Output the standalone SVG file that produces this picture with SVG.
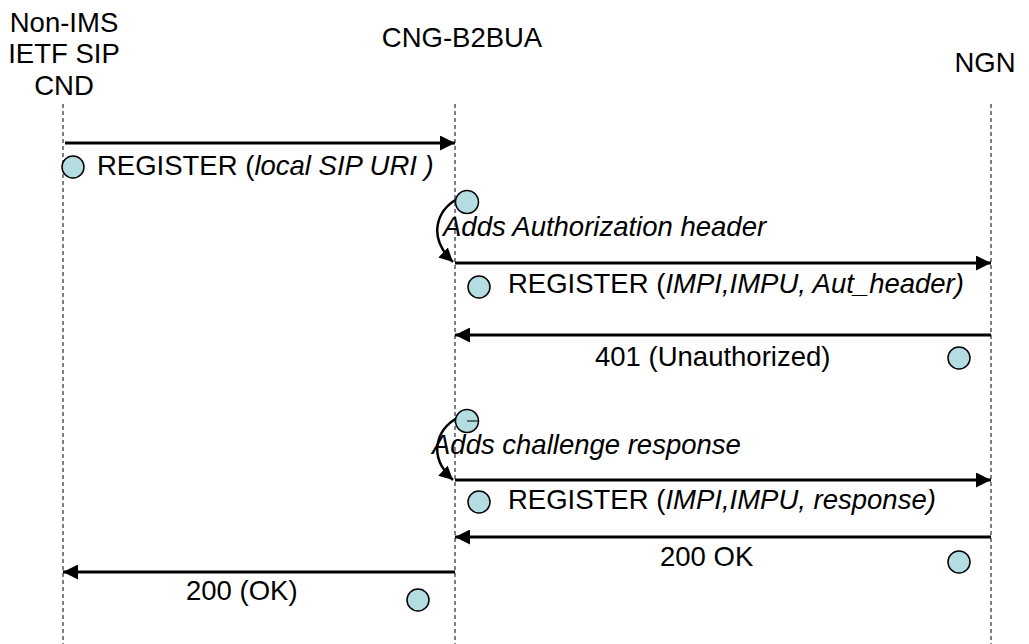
<svg xmlns="http://www.w3.org/2000/svg" width="1029" height="644" viewBox="0 0 1029 644">
<defs>
<marker id="ah" viewBox="0 0 10 10" refX="10" refY="5" markerWidth="5" markerHeight="5" orient="auto" markerUnits="strokeWidth">
<path d="M0,0 L10,5 L0,10 z" fill="#000"/>
</marker>
<marker id="ah2" viewBox="0 0 10 10" refX="10" refY="5" markerWidth="5.5" markerHeight="5.5" orient="auto" markerUnits="strokeWidth">
<path d="M0,0 L10,5 L0,10 z" fill="#000"/>
</marker>
<style>
text{font-family:"Liberation Sans",Arial,sans-serif;font-size:27.5px;fill:#000}
.it{font-style:italic}
.life{stroke:#000;stroke-width:1;stroke-dasharray:4,3}
.msg{stroke:#000;stroke-width:3;fill:none;marker-end:url(#ah)}
.curve{stroke:#000;stroke-width:2.5;fill:none;marker-end:url(#ah2)}
.dot{fill:#b4dde1;stroke:#000;stroke-width:1.5}
</style>
</defs>
<rect width="1029" height="644" fill="#fff"/>
<g id="cnd">
<text x="64" y="32" text-anchor="middle">Non-IMS</text>
<text x="64" y="63" text-anchor="middle">IETF SIP</text>
<text x="64" y="95" text-anchor="middle">CND</text>
<line class="life" x1="63" y1="104" x2="63" y2="644"/>
</g>
<g id="b2bua">
<text x="462" y="47" text-anchor="middle">CNG-B2BUA</text>
<line class="life" x1="455" y1="104" x2="455" y2="644"/>
</g>
<g id="ngn">
<text x="985" y="72" text-anchor="middle">NGN</text>
<line class="life" x1="991" y1="104" x2="991" y2="644"/>
</g>
<g id="connectors">
<line class="msg" x1="65" y1="143" x2="455" y2="143"/>
<path class="curve" d="M457,199 C438,210 426,236 453,262"/>
<line class="msg" x1="455" y1="263" x2="991" y2="263"/>
<line class="msg" x1="991" y1="335" x2="455" y2="335"/>
<path class="curve" d="M457,418 C438,429 426,455 453,480"/>
<line class="msg" x1="455" y1="480" x2="991" y2="480"/>
<line class="msg" x1="991" y1="537" x2="455" y2="537"/>
<line class="msg" x1="455" y1="572" x2="63" y2="572"/>
</g>
<g id="m1">
<circle class="dot" cx="73" cy="167" r="11"/>
<text x="97" y="175">REGISTER (<tspan class="it">local SIP URI )</tspan></text>
</g>
<g id="a1">
<circle class="dot" cx="467" cy="202" r="11.5"/>
<text x="443" y="236" class="it">Adds Authorization header</text>
</g>
<g id="m2">
<circle class="dot" cx="479" cy="287" r="11"/>
<text x="508" y="293">REGISTER (<tspan class="it">IMPI,IMPU, Aut_header)</tspan></text>
</g>
<g id="m3">
<circle class="dot" cx="959" cy="358" r="11"/>
<text x="595" y="366">401 (Unauthorized)</text>
</g>
<g id="a2">
<circle class="dot" cx="467" cy="421" r="11.5"/>
<line x1="467" y1="421" x2="478" y2="421" stroke="#000" stroke-width="1"/>
<text x="432" y="454" class="it">Adds challenge response</text>
</g>
<g id="m4">
<circle class="dot" cx="479" cy="502" r="11"/>
<text x="508" y="509">REGISTER (<tspan class="it">IMPI,IMPU, response)</tspan></text>
</g>
<g id="m5">
<circle class="dot" cx="959" cy="562" r="11"/>
<text x="660" y="566">200 OK</text>
</g>
<g id="m6">
<circle class="dot" cx="418" cy="600" r="11"/>
<text x="186" y="600">200 (OK)</text>
</g>
</svg>
